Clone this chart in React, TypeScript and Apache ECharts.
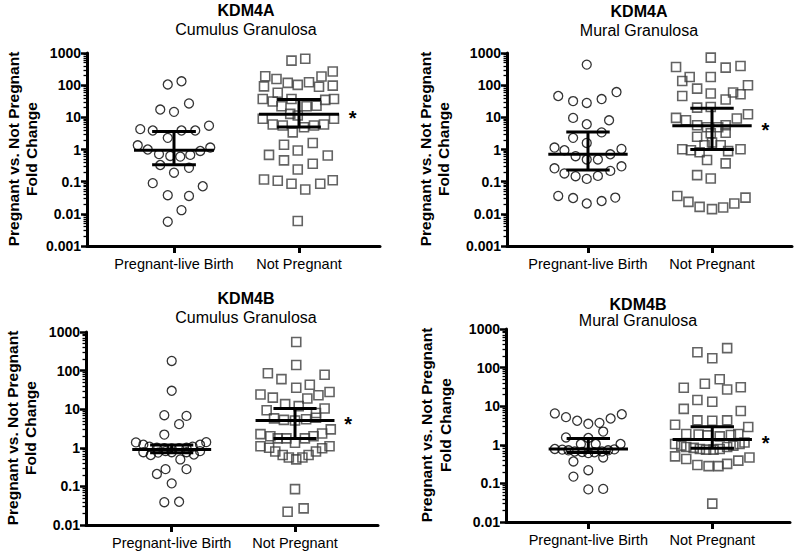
import React, { useEffect, useRef } from "react";
import * as echarts from "echarts";

const CATEGORIES = ["Pregnant-live Birth", "Not Pregnant"];
const TOP_TICKS = [0.001, 0.01, 0.1, 1, 10, 100, 1000];
const BOTTOM_TICKS = [0.01, 0.1, 1, 10, 100, 1000];

// [jitter (category units), fold change]
const kdm4aCumulusPregnant = [
  [-0.05, 105], [0.06, 132], [-0.11, 17.5], [0, 14.8], [0.12, 27], [-0.27, 4.3], [-0.17, 3.9],
  [0.06, 3.9], [0.17, 3.9], [0.28, 5.5], [-0.05, 2.3], [-0.29, 1.35], [-0.21, 1.0], [-0.12, 0.72],
  [-0.03, 0.63], [0.05, 0.6], [0.13, 0.68], [0.21, 0.9], [0.29, 1.15], [-0.11, 0.33], [0.12, 0.27],
  [0, 0.19], [-0.17, 0.09], [0.23, 0.072], [-0.05, 0.038], [0.12, 0.036], [0.06, 0.013], [-0.05, 0.0057],
];
const kdm4aCumulusNotPregnant = [
  [-0.06, 580], [0.05, 660],
  [-0.27, 190], [-0.28, 92], [-0.18, 155], [-0.09, 118], [-0.01, 102], [0.08, 123], [0.18, 185], [0.27, 265], [0.16, 89], [0.27, 97],
  [-0.17, 58], [-0.29, 37], [-0.21, 31], [-0.06, 37], [-0.14, 22], [0.06, 22], [0.14, 23], [0.21, 35], [0.28, 37],
  [-0.29, 9], [-0.21, 6], [-0.13, 5.6], [-0.07, 12.8], [-0.01, 11.4], [-0.05, 3.4], [0.04, 4.9], [0.12, 5.6], [0.2, 6], [0.28, 9],
  [-0.12, 1.4], [0.11, 1.6], [-0.24, 0.68], [-0.01, 0.93], [-0.12, 0.46], [0.23, 0.65], [0.11, 0.36], [-0.01, 0.24],
  [-0.28, 0.117], [-0.17, 0.107], [-0.06, 0.086], [0.05, 0.057], [0.17, 0.086], [0.27, 0.111],
  [-0.01, 0.006],
];
const kdm4aMuralPregnant = [
  [-0.01, 436], [-0.24, 46], [-0.12, 32], [-0.01, 28], [0.11, 37], [0.23, 61], [-0.12, 9.6], [-0.01, 6.1],
  [0.17, 8.1], [-0.12, 2.3], [0.11, 3.4], [-0.01, 1.6], [-0.27, 1.15], [-0.19, 0.95], [-0.1, 0.62],
  [-0.01, 0.49], [0.08, 0.49], [0.18, 0.71], [0.27, 1.04], [-0.27, 0.26], [-0.19, 0.18], [-0.1, 0.148],
  [-0.01, 0.122], [0.08, 0.151], [0.18, 0.216], [0.27, 0.3], [-0.24, 0.036], [-0.12, 0.031], [-0.01, 0.021],
  [0.11, 0.025], [0.22, 0.032],
];
const kdm4aMuralNotPregnant = [
  [-0.01, 720], [-0.29, 367], [0.11, 352], [0.23, 395], [-0.24, 135], [-0.18, 180], [-0.01, 180], [-0.12, 78],
  [0.29, 99], [0.17, 59], [0.23, 52], [-0.24, 46], [-0.01, 55], [0.11, 36], [-0.12, 20], [-0.01, 21],
  [-0.29, 9.6], [-0.21, 8.1], [-0.12, 5.7], [-0.04, 4.9], [0.05, 4.9], [0.11, 5.7], [0.2, 9.2], [0.29, 12.5],
  [-0.12, 2.5], [-0.01, 3.2], [0.11, 3.3], [-0.24, 1.02], [-0.17, 0.95], [-0.1, 0.82], [-0.06, 1.36], [0, 1.65],
  [0.07, 1.36], [0.13, 0.89], [0.23, 1.02], [-0.04, 0.47], [0.11, 0.37], [-0.12, 0.16], [-0.01, 0.126],
  [-0.28, 0.036], [-0.19, 0.0236], [-0.1, 0.0165], [0, 0.014], [0.09, 0.0158], [0.18, 0.021], [0.27, 0.032],
];
const kdm4bCumulusPregnant = [
  [0, 178], [0, 30], [-0.06, 7.0], [0.12, 6.7], [0.06, 4.1], [-0.06, 2.2], [-0.29, 1.38], [-0.23, 1.2],
  [-0.18, 1.07], [-0.12, 1.0], [-0.06, 0.97], [0, 0.96], [0.06, 0.97], [0.12, 1.0], [0.17, 1.07], [0.23, 1.2],
  [0.28, 1.4], [-0.23, 0.77], [-0.17, 0.65], [-0.11, 0.75], [-0.05, 0.82], [0, 0.77], [0.07, 0.5], [0.12, 0.77],
  [0.18, 0.67], [0.23, 0.82], [-0.05, 0.28], [-0.12, 0.21], [0.12, 0.28], [0, 0.12], [-0.06, 0.039], [0.06, 0.04],
];
const kdm4bCumulusNotPregnant = [
  [0.01, 550], [0.01, 140], [-0.22, 85], [-0.11, 60], [0.24, 78], [0.01, 36], [0.12, 43], [-0.28, 24], [-0.18, 20],
  [-0.08, 13.5], [0.03, 12], [0.1, 19], [0.19, 23], [0.28, 28], [-0.23, 9.4], [0.24, 10.4], [0.17, 8.0],
  [-0.17, 5.8], [-0.09, 5.3], [0, 5.1], [0.09, 5.5], [0.17, 6.0],
  [-0.28, 2.26], [-0.2, 2.0], [-0.14, 1.75], [-0.07, 1.75], [0, 1.35], [0.08, 1.75], [0.15, 2.0], [0.22, 2.35], [0.29, 3.0],
  [-0.28, 1.1], [-0.21, 1.0], [-0.16, 0.8], [-0.1, 0.65], [-0.05, 0.56], [0.01, 0.5], [0.06, 0.56], [0.11, 0.65],
  [0.17, 0.8], [0.22, 0.97], [0.28, 1.1],
  [0, 0.085], [-0.06, 0.022], [0.07, 0.027],
];
const kdm4bMuralPregnant = [
  [-0.27, 6.5], [-0.18, 5.2], [-0.09, 4.2], [0, 3.5], [0.09, 3.7], [0.18, 4.8], [0.27, 6.2], [0.12, 2.2],
  [-0.18, 1.55], [0, 1.5], [-0.06, 1.05], [0.06, 1.05], [0.26, 1.05],
  [-0.27, 0.78], [-0.21, 0.75], [-0.16, 0.72], [-0.11, 0.67], [-0.05, 0.65], [0, 0.61], [0.05, 0.64],
  [0.11, 0.67], [0.16, 0.72], [0.21, 0.76],
  [-0.12, 0.37], [0.12, 0.47], [-0.12, 0.15], [0, 0.22], [0, 0.07], [0.12, 0.072],
];
const kdm4bMuralNotPregnant = [
  [-0.12, 250], [0, 175], [0.12, 320], [-0.23, 30], [-0.06, 38], [0.06, 50], [0.12, 27], [0.23, 31],
  [-0.12, 14.5], [0, 13], [-0.23, 8.5], [0.23, 7.5], [-0.12, 4.3], [0, 4.2], [0.12, 4.3], [-0.3, 3.3], [0.29, 2.9],
  [-0.21, 1.9], [-0.11, 1.85], [-0.04, 1.75], [0.06, 1.65], [0.15, 1.8], [0.21, 1.9],
  [-0.3, 1.05], [-0.25, 0.95], [-0.21, 0.88], [-0.15, 0.83], [-0.1, 0.78], [-0.05, 0.75], [0.01, 0.75],
  [0.06, 0.78], [0.12, 0.88], [0.17, 0.95], [0.22, 1.05], [0.26, 1.15],
  [-0.3, 0.5], [-0.21, 0.43], [-0.12, 0.3], [-0.03, 0.28], [0.05, 0.28], [0.12, 0.32], [0.21, 0.39], [0.3, 0.47],
  [0, 0.03],
];

// median, lower and upper bar per group [Pregnant-live Birth, Not Pregnant]
const kdm4aCumulusMedian = [0.95, 12.5];
const kdm4aCumulusLow = [0.335, 5.0];
const kdm4aCumulusHigh = [3.6, 36];
const kdm4aMuralMedian = [0.71, 5.5];
const kdm4aMuralLow = [0.23, 1.0];
const kdm4aMuralHigh = [3.5, 19];
const kdm4bCumulusMedian = [0.9, 5.1];
const kdm4bCumulusLow = [0.74, 1.75];
const kdm4bCumulusHigh = [1.18, 10.4];
const kdm4bMuralMedian = [0.78, 1.38];
const kdm4bMuralLow = [0.63, 0.82];
const kdm4bMuralHigh = [1.45, 2.95];
const SIGNIFICANT = [0, 1];

const FONT = "'Liberation Sans', Arial, Helvetica, sans-serif";

const panels = [
  {
    gene: "KDM4A", tissue: "Cumulus Granulosa",
    pregnant: kdm4aCumulusPregnant, notPregnant: kdm4aCumulusNotPregnant,
    median: kdm4aCumulusMedian, low: kdm4aCumulusLow, high: kdm4aCumulusHigh,
    yTicks: TOP_TICKS,
    grid: { left: 87, top: 53, width: 293, height: 193 }, xRange: [0.304, 2.648],
    titleX: 246, titleY: 10, subY: 29, nameX1: 13, nameX2: 31, nameY: 149,
  },
  {
    gene: "KDM4A", tissue: "Mural Granulosa",
    pregnant: kdm4aMuralPregnant, notPregnant: kdm4aMuralNotPregnant,
    median: kdm4aMuralMedian, low: kdm4aMuralLow, high: kdm4aMuralHigh,
    yTicks: TOP_TICKS,
    grid: { left: 507, top: 53, width: 285, height: 193 }, xRange: [0.347, 2.645],
    titleX: 639, titleY: 11, subY: 30, nameX1: 425.5, nameX2: 443.5, nameY: 149,
  },
  {
    gene: "KDM4B", tissue: "Cumulus Granulosa",
    pregnant: kdm4bCumulusPregnant, notPregnant: kdm4bCumulusNotPregnant,
    median: kdm4bCumulusMedian, low: kdm4bCumulusLow, high: kdm4bCumulusHigh,
    yTicks: BOTTOM_TICKS,
    grid: { left: 86, top: 332, width: 292, height: 193 }, xRange: [0.305, 2.673],
    titleX: 246, titleY: 298, subY: 317, nameX1: 12, nameX2: 30, nameY: 428,
  },
  {
    gene: "KDM4B", tissue: "Mural Granulosa",
    pregnant: kdm4bMuralPregnant, notPregnant: kdm4bMuralNotPregnant,
    median: kdm4bMuralMedian, low: kdm4bMuralLow, high: kdm4bMuralHigh,
    yTicks: BOTTOM_TICKS,
    grid: { left: 506, top: 329, width: 284, height: 193 }, xRange: [0.336, 2.627],
    titleX: 638, titleY: 304, subY: 320, nameX1: 426.5, nameX2: 445, nameY: 425,
  },
];

function minorTicks(ticks: number[]) {
  const out: number[] = [];
  for (let i = 0; i < ticks.length - 1; i++) {
    for (let k = 2; k <= 9; k++) out.push(Number((ticks[i] * k).toPrecision(3)));
  }
  return out;
}

function buildOption() {
  const grid: any[] = [];
  const xAxis: any[] = [];
  const yAxis: any[] = [];
  const series: any[] = [];
  const graphic: any[] = [];

  panels.forEach((p, i) => {
    grid.push({ ...p.grid, containLabel: false });
    xAxis.push({
      type: "value", gridIndex: i, position: "bottom", min: p.xRange[0], max: p.xRange[1],
      axisLine: { show: true, onZero: false, lineStyle: { color: "#000", width: 3 } },
      axisTick: { show: true, customValues: [1, 2], length: 7, lineStyle: { color: "#000", width: 3 } },
      axisLabel: {
        show: true, customValues: [1, 2], margin: 10,
        formatter: (v: number) => CATEGORIES[Math.round(v) - 1] || "",
        color: "#000", fontSize: 14.5, fontFamily: FONT,
      },
      splitLine: { show: false },
    });
    const yMin = p.yTicks[0];
    const yMax = p.yTicks[p.yTicks.length - 1];
    yAxis.push({
      type: "log", logBase: 10, gridIndex: i, position: "left", offset: 0, min: yMin, max: yMax,
      axisLine: { show: true, onZero: false, lineStyle: { color: "#000", width: 3 } },
      axisTick: { show: true, customValues: p.yTicks, length: 6, lineStyle: { color: "#000", width: 2.5 } },
      axisLabel: {
        show: true, customValues: p.yTicks, margin: 6,
        formatter: (v: number) => String(Number(Number(v).toPrecision(3))),
        color: "#000", fontSize: 14, fontWeight: "bold", fontFamily: FONT,
      },
      splitLine: { show: false },
    });
    yAxis.push({
      type: "log", logBase: 10, gridIndex: i, position: "left", offset: 0, min: yMin, max: yMax,
      axisLine: { show: false, onZero: false },
      axisTick: { show: true, customValues: minorTicks(p.yTicks), length: 3.5, lineStyle: { color: "#000", width: 1.3 } },
      axisLabel: { show: false },
      splitLine: { show: false },
    });

    series.push({
      type: "scatter", xAxisIndex: i, yAxisIndex: 2 * i, symbol: "circle", symbolSize: 9,
      data: p.pregnant.map(([j, v]) => [1 + j, v]),
      itemStyle: { color: "rgba(0,0,0,0)", borderColor: "#000", borderWidth: 1.3 },
      z: 2, silent: true,
    });
    series.push({
      type: "scatter", xAxisIndex: i, yAxisIndex: 2 * i, symbol: "rect", symbolSize: 9,
      data: p.notPregnant.map(([j, v]) => [2 + j, v]),
      itemStyle: { color: "rgba(0,0,0,0)", borderColor: "#3c3c3c", borderWidth: 1.6 },
      z: 2, silent: true,
    });
    series.push({
      type: "custom", xAxisIndex: i, yAxisIndex: 2 * i, z: 5, silent: true,
      encode: { x: 0, y: [1, 2, 3] },
      data: [0, 1].map((g) => [g + 1, p.median[g], p.low[g], p.high[g], SIGNIFICANT[g]]),
      renderItem: (_params: any, api: any) => {
        const x = api.value(0), m = api.value(1), lo = api.value(2), hi = api.value(3), star = api.value(4);
        const c = (dx: number, v: number) => api.coord([x + dx, v]);
        const ln = (a: number[], b: number[]) => ({
          type: "line",
          shape: { x1: a[0], y1: a[1], x2: b[0], y2: b[1] },
          style: { stroke: "#000", lineWidth: 3 },
        });
        const children: any[] = [
          ln(c(-0.32, m), c(0.32, m)),
          ln(c(0, lo), c(0, hi)),
          ln(c(-0.175, lo), c(0.175, lo)),
          ln(c(-0.175, hi), c(0.175, hi)),
        ];
        if (star) {
          const s = c(0.43, m);
          children.push({
            type: "text", x: s[0], y: s[1] + 4,
            style: {
              text: "*", fill: "#000", font: `bold 20px ${FONT}`,
              textAlign: "center", textVerticalAlign: "middle", align: "center", verticalAlign: "middle",
            },
          });
        }
        return { type: "group", children };
      },
    });

    const txt = (text: string, x: number, y: number, font: string, rotation = 0) => ({
      type: "text", x, y, rotation,
      style: {
        text, fill: "#000", font,
        textAlign: "center", textVerticalAlign: "middle", align: "center", verticalAlign: "middle",
      },
    });
    graphic.push(txt(p.gene, p.titleX, p.titleY, `bold 16px ${FONT}`));
    graphic.push(txt(p.tissue, p.titleX, p.subY, `16px ${FONT}`));
    graphic.push(txt("Pregnant vs. Not Pregnant", p.nameX1, p.nameY, `bold 15.5px ${FONT}`, Math.PI / 2));
    graphic.push(txt("Fold Change", p.nameX2, p.nameY, `bold 15.5px ${FONT}`, Math.PI / 2));
  });

  return {
    animation: false,
    backgroundColor: "#fff",
    grid, xAxis, yAxis, series, graphic,
  };
}

export default function App() {
  const ref = useRef<HTMLDivElement>(null);
  useEffect(() => {
    if (!ref.current) return;
    const chart = echarts.init(ref.current, undefined, { renderer: "svg" });
    chart.setOption(buildOption() as any);
    return () => chart.dispose();
  }, []);
  return (
    <div
      ref={ref}
      style={{ position: "fixed", left: 0, top: 0, width: 798, height: 551, background: "#fff" }}
    />
  );
}
